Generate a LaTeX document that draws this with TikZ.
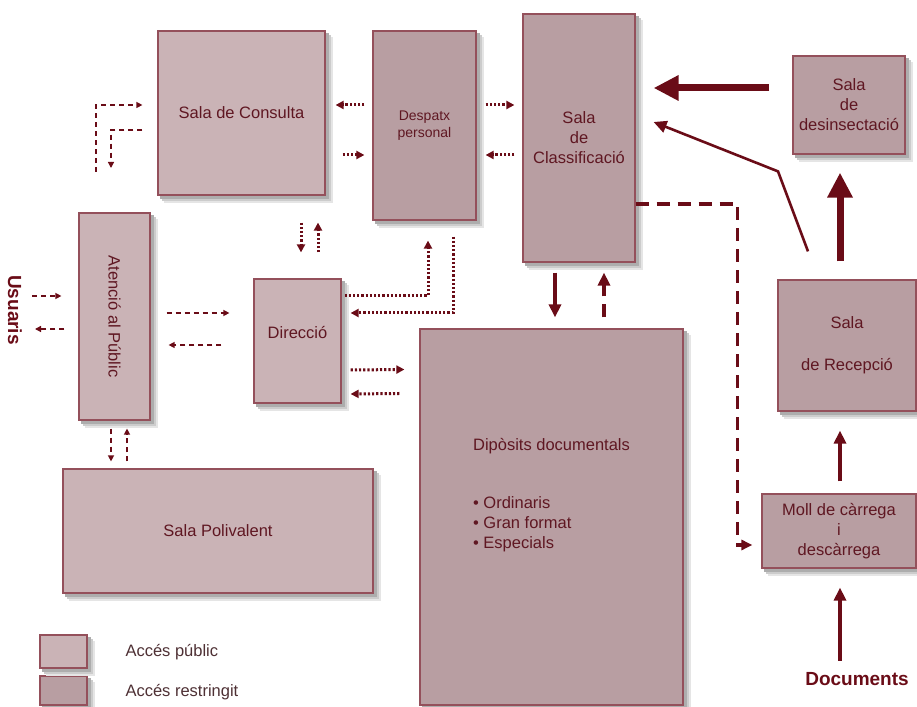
\documentclass[tikz,border=0pt]{standalone}
\usepackage{fontspec}
\setmainfont{Liberation Sans}
\usepackage{tikz}
\usetikzlibrary{arrows.meta}

\definecolor{pubfill}{HTML}{CAB3B6}
\definecolor{resfill}{HTML}{B89EA2}
\definecolor{boxline}{HTML}{94505B}
\definecolor{wine}{HTML}{6A0C17}
\definecolor{labeltext}{HTML}{5F1722}
\definecolor{legtext}{HTML}{4E3034}

\begin{document}
\begin{tikzpicture}[x=1pt,y=1pt,
  roomtext/.style={text=labeltext, font=\fontsize{16.5}{20}\selectfont},
  room/.style={draw=boxline, line width=1.2pt, roomtext, align=center, inner sep=0pt},
  pubroom/.style={room, fill=pubfill},
  resroom/.style={room, fill=resfill},
  legend/.style={text=legtext, font=\fontsize{16.5}{20}\selectfont},
  ends/.style={text=wine, font=\fontsize{19}{22}\selectfont\bfseries},
  flow/.style={draw=wine, line width=1.3pt, dash pattern=on 5pt off 4pt, -{Triangle[length=6pt,width=6pt]}},
  dots/.style={draw=wine, line width=3pt, dash pattern=on 2.2pt off 2pt, -{Triangle[length=8pt,width=8pt]}},
  pipe/.style={draw=wine, line width=3.2pt, -{Triangle[length=13pt,width=12pt]}},
  bigdash/.style={pipe, dash pattern=on 13pt off 8pt},
  bigpipe/.style={draw=wine, line width=7pt, -{Triangle[length=25pt,width=24pt]}},
]
\useasboundingbox (0,0) rectangle (917,706);

% rooms
\node[pubroom, minimum width=167pt, minimum height=164pt] (consulta) at (241.5,593) {Sala de Consulta};
\node[resroom, minimum width=103pt, minimum height=189pt, font=\fontsize{14}{17}\selectfont] (despatx) at (424.5,580.5) {Despatx\\personal};
\node[resroom, minimum width=112pt, minimum height=248pt] (classif) at (579,568) {Sala\\de\\Classificació};
\node[resroom, minimum width=112pt, minimum height=98pt] (desins) at (849,601) {Sala\\de\\desinsectació};
\node[pubroom, minimum width=71pt, minimum height=207pt,
  label={[rotate=-90, roomtext]center:Atenció al Públic}] (atencio) at (114.5,389.5) {};
\node[pubroom, minimum width=87pt, minimum height=124pt,
  label={[roomtext, yshift=8pt]center:Direcció}] (direccio) at (297.5,365) {};
\node[resroom, minimum width=263pt, minimum height=376pt] (diposits) at (551.5,189) {};
\node[roomtext, align=left] (dipcontent) at ([yshift=22pt]diposits.center)
  {Dipòsits documentals\\[38pt]\textbullet\ Ordinaris\\ \textbullet\ Gran format\\ \textbullet\ Especials};
\node[resroom, minimum width=138pt, minimum height=131pt] (recepcio) at (847,360.5) {Sala\\[22pt]de Recepció};
\node[resroom, minimum width=154pt, minimum height=74pt] (moll) at (839,175) {Moll de càrrega\\i\\descàrrega};
\node[pubroom, minimum width=310pt, minimum height=124pt] (polivalent) at (218,175) {Sala Polivalent};

% legend and outside
\node[pubroom, minimum width=47pt, minimum height=33pt] (legpub) at (63.5,54.5) {};
\node[resroom, minimum width=47pt, minimum height=29pt] (legres) at (63.5,15.5) {};
\node[legend, anchor=west] (legpubtext) at (122,54) {Accés públic};
\node[legend, anchor=west] (legrestext) at (122,14) {Accés restringit};
\node[ends, rotate=-90] (usuaris) at (15,396) {Usuaris};
\node[ends] (documents) at (857,27) {Documents};

% soft shadows: strips right of and below each room
\foreach \off/\shade in {7/10,5/20,3/32}
  \foreach \r in {consulta,despatx,classif,desins,atencio,direccio,diposits,recepcio,moll,polivalent,legpub,legres} {
    \fill[black!\shade] ([shift={(0.6pt,-\off pt)}]\r.south east) rectangle ([shift={(\off pt,-\off pt)}]\r.north east);
    \fill[black!\shade] ([shift={(\off pt,-\off pt)}]\r.south west) rectangle ([shift={(0.6pt,-0.6pt)}]\r.south east);
  }

% public circulation
\coordinate (inturn) at (96,534);
\coordinate (outturn) at (111,538);
\draw[flow] (inturn) |- ([xshift=-15pt,yshift=8pt]consulta.west);
\draw[flow] ([xshift=-15pt,yshift=-17pt]consulta.west) -| (outturn);
\draw[flow] ([xshift=17pt,yshift=14pt]usuaris.center) -- ([xshift=-17pt,yshift=20.5pt]atencio.west);
\draw[flow] ([xshift=-14pt,yshift=-12.5pt]atencio.west) -- ([xshift=20pt,yshift=-19pt]usuaris.center);
\draw[flow] ([xshift=16pt,yshift=3.5pt]atencio.east) -- ([xshift=-24pt,yshift=28pt]direccio.west);
\draw[flow] ([xshift=-32pt,yshift=-4pt]direccio.west) -- ([xshift=18pt,yshift=-28.5pt]atencio.east);
\draw[flow] ([xshift=-3.5pt,yshift=-8pt]atencio.south) -- ([xshift=-107pt,yshift=7pt]polivalent.north);
\draw[flow] ([xshift=-91pt,yshift=7pt]polivalent.north) -- ([xshift=12.5pt,yshift=-8pt]atencio.south);

% staff circulation
\draw[dots] ([xshift=-8pt,yshift=20.5pt]despatx.west) -- ([xshift=10pt,yshift=8pt]consulta.east);
\draw[dots] ([xshift=17pt,yshift=-42pt]consulta.east) -- ([xshift=-8pt,yshift=-29.5pt]despatx.west);
\draw[dots] ([xshift=9pt,yshift=20.5pt]despatx.east) -- ([xshift=-8pt,yshift=33pt]classif.west);
\draw[dots] ([xshift=-8pt,yshift=-17pt]classif.west) -- ([xshift=9pt,yshift=-29.5pt]despatx.east);
\draw[dots] ([xshift=59.5pt,yshift=-27pt]consulta.south) -- ([xshift=3.5pt,yshift=26pt]direccio.north);
\draw[dots] ([xshift=20.5pt,yshift=26pt]direccio.north) -- ([xshift=76.5pt,yshift=-27pt]consulta.south);
\draw[dots] ([xshift=3pt,yshift=45pt]direccio.east) -| ([xshift=3.5pt,yshift=-20pt]despatx.south);
\draw[dots] ([xshift=28.5pt,yshift=-16pt]despatx.south) |- ([xshift=9pt,yshift=28pt]direccio.east);
\draw[dots] ([xshift=9pt,yshift=-29pt]direccio.east) -- ([xshift=-15pt,yshift=147.5pt]diposits.west);
\draw[dots] ([xshift=-20pt,yshift=123.5pt]diposits.west) -- ([xshift=9pt,yshift=-53pt]direccio.east);

% documents circulation
\draw[pipe] ([xshift=-24pt,yshift=-10pt]classif.south) -- ([xshift=3.5pt,yshift=11pt]diposits.north);
\draw[bigdash] ([xshift=52.5pt,yshift=11pt]diposits.north) -- ([xshift=25pt,yshift=-10pt]classif.south);
\draw[bigdash, -{Triangle[length=11pt,width=10pt]}] ([yshift=-66pt]classif.east)
  -| ([xshift=-24pt,yshift=-14pt]moll.west) -- ([xshift=-9pt,yshift=-14pt]moll.west);
\draw[bigpipe] ([xshift=-23pt,yshift=17pt]desins.west) -- ([xshift=18pt,yshift=50pt]classif.east);
\draw[pipe, line width=2.6pt] ([xshift=-39pt,yshift=28pt]recepcio.north) -- ++(-30,80)
  -- ([xshift=18pt,yshift=16pt]classif.east);
\draw[bigpipe] ([xshift=-7pt,yshift=18pt]recepcio.north) -- ([xshift=-9pt,yshift=-18pt]desins.south);
\draw[pipe] ([xshift=1pt,yshift=12pt]moll.north) -- ([xshift=-7pt,yshift=-19pt]recepcio.south);
\draw[pipe] ([xshift=-17pt,yshift=8pt]documents.north) -- ([xshift=1pt,yshift=-19pt]moll.south);
\end{tikzpicture}
\end{document}
